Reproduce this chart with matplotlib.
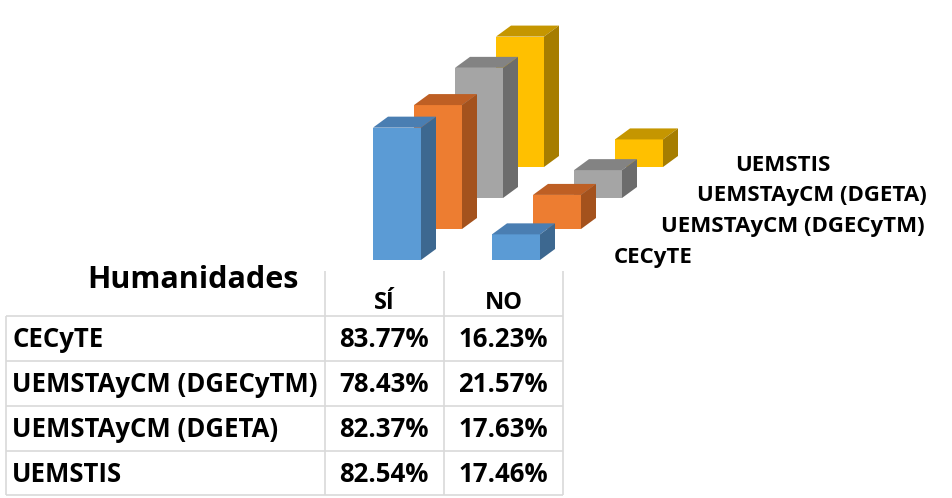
import matplotlib.pyplot as plt
from matplotlib.patches import Polygon

plt.rcParams["font.family"] = ["Open Sans", "DejaVu Sans"]
plt.rcParams["font.weight"] = "bold"

# data
title = "Humanidades"
categories = ["SÍ", "NO"]
series = ["CECyTE", "UEMSTAyCM (DGECyTM)", "UEMSTAyCM (DGETA)", "UEMSTIS"]
si_vals = [83.77, 78.43, 82.37, 82.54]
no_vals = [16.23, 21.57, 17.63, 17.46]

front = ["#5B9BD5", "#ED7D31", "#A5A5A5", "#FFC000"]
top = ["#4A7EB2", "#BE5F24", "#838383", "#C59600"]
side = ["#3D6890", "#A4521D", "#6C6C6C", "#A67D00"]

W, H = 952, 498
fig = plt.figure(figsize=(W / 100, H / 100), dpi=100)

# chart axes: x in pixels, y in percent (1% = 1.58 px)
PPU = 1.58
BASE_PIX = 260
ax = fig.add_axes([0, 0, 1, 1])
ax.set_xlim(0, W)
ax.set_ylim((BASE_PIX - H) / PPU, BASE_PIX / PPU)
ax.axis("off")

X0, CAT_DX, SER_DX, SER_DY = 373, 119, 41, 31 / PPU
BW, DX, DY = 48, 15, 11 / PPU

vals = [si_vals, no_vals]
for s in range(len(series) - 1, -1, -1):
    b = s * SER_DY
    for c in range(len(categories)):
        v = vals[c][s]
        x0 = X0 + c * CAT_DX + s * SER_DX
        ax.add_patch(Polygon([(x0, b), (x0 + BW, b), (x0 + BW, b + v), (x0, b + v)],
                             closed=True, fc=front[s], ec="none"))
        ax.add_patch(Polygon([(x0, b + v), (x0 + BW, b + v), (x0 + BW + DX, b + v + DY),
                              (x0 + DX, b + v + DY)], closed=True, fc=top[s], ec="none"))
        ax.add_patch(Polygon([(x0 + BW, b), (x0 + BW + DX, b + DY), (x0 + BW + DX, b + v + DY),
                              (x0 + BW, b + v)], closed=True, fc=side[s], ec="none"))

# series labels along the depth axis (left x, baseline y in pixels)
ser_pos = [(614, 263), (661, 232), (697, 201), (735, 171)]
for name, (x, y) in zip(series, ser_pos):
    fig.text(x / W, 1 - y / H, name, fontsize=16, fontweight="bold",
             ha="left", va="baseline", color="black")

# data table in pixel coords
tx = fig.add_axes([0, 0, 1, 1], facecolor="none")
tx.set_xlim(0, W)
tx.set_ylim(H, 0)
tx.axis("off")

grid = "#D9D9D9"
col_x = [325, 444, 563]
row_y = [316, 361, 406, 451, 495]
for x in col_x:
    tx.plot([x, x], [271, row_y[-1]], color=grid, lw=1.2, solid_capstyle="butt")
tx.plot([6, 6], [row_y[0], row_y[-1]], color=grid, lw=1.2, solid_capstyle="butt")
for y in row_y:
    tx.plot([6, col_x[-1]], [y, y], color=grid, lw=1.2, solid_capstyle="butt")

tx.text(193, 288, title, fontsize=22, fontweight="bold", ha="center", va="baseline")
for i, cat in enumerate(categories):
    tx.text((col_x[i] + col_x[i + 1]) / 2, 309, cat, fontsize=17,
            fontweight="bold", ha="center", va="baseline")

for r, name in enumerate(series):
    yb = row_y[r] + 31
    tx.text(12, yb, name, fontsize=18.5, fontweight="bold", ha="left", va="baseline")
    for c in range(len(categories)):
        tx.text(col_x[c + 1] - 15, yb, f"{vals[c][r]:.2f}%", fontsize=18.5,
                fontweight="bold", ha="right", va="baseline")

fig.savefig("out.png", dpi=100)
